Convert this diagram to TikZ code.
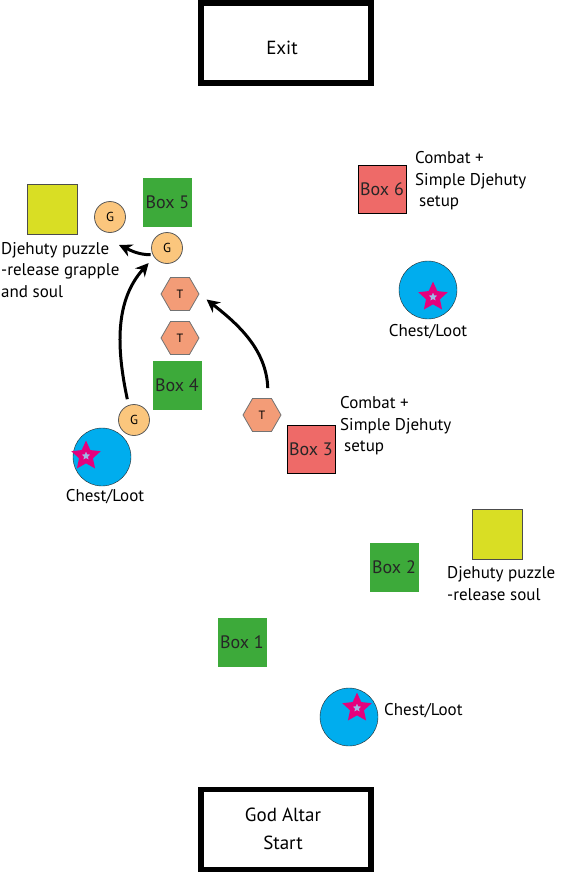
\documentclass[tikz,border=0pt]{standalone}
\usepackage{fontspec}
\setmainfont{PT Sans}
\usetikzlibrary{shapes.geometric,arrows.meta}
\definecolor{boxgreen}{HTML}{3DAA3A}
\definecolor{boxred}{HTML}{EE6A68}
\definecolor{puzzleyellow}{HTML}{D9DE24}
\definecolor{chestblue}{HTML}{00ADEE}
\definecolor{starpink}{HTML}{E5007D}
\definecolor{holeblue}{HTML}{9FB8E6}
\definecolor{grapple}{HTML}{FBC67D}
\definecolor{trap}{HTML}{F39C77}

\begin{document}
\begin{tikzpicture}
  [x=1pt,y=-1pt,
  door/.style={rectangle,draw=black,line width=5.5pt,minimum width=170pt,
                  minimum height=80pt,align=center,outer sep=0,
                  font=\fontsize{19}{28}\selectfont},
  doortext/.style={inner sep=0,align=center,font=\fontsize{19}{28}\selectfont},
  greenbox/.style={rectangle,fill=boxgreen,minimum size=49pt,inner sep=0,
                  text=black!85,font=\fontsize{18}{20}\selectfont},
  redbox/.style={rectangle,fill=boxred,draw=black,thick,minimum size=48pt,
                  inner sep=0,text=black!85,font=\fontsize{18}{20}\selectfont},
  puzzle/.style={rectangle,fill=puzzleyellow,draw=black!70,minimum size=50pt},
  chest/.style={circle,fill=chestblue,draw=black!85,minimum size=58pt},
  loot/.style={star,star points=5,star point ratio=2.1,minimum size=20pt,
                  inner sep=0,draw=starpink,fill=holeblue,line width=4.5pt},
  gnode/.style={circle,fill=grapple,draw=black!65,thick,minimum size=31pt,
                  inner sep=0,font=\fontsize{13}{13}\selectfont},
  tnode/.style={regular polygon,regular polygon sides=6,fill=trap,
                  draw=black!55,thick,minimum size=38pt,inner sep=0,
                  font=\fontsize{12}{12}\selectfont},
  note/.style={align=left,inner sep=0,font=\fontsize{17}{21.5}\selectfont},
  flow/.style={-{Stealth[length=13pt,width=13pt]},line width=3pt}
  ]
  \useasboundingbox (0,0) rectangle (560,873);

  % exit and start
  \node[door] (exit) at (286,43) {};
  \node[doortext] (exitlabel) at (282,48) {Exit};
  \node[door] (altar) at (286,829.5) {};
  \node[doortext] (altarlabel) at (283,829) {God Altar\\Start};

  % upper left room
  \node[puzzle] (puzzle1) at (52,209) {};
  \node[gnode] (g1) at (110,217) {G};
  \node[greenbox] (box5) at (167.5,202) {Box 5};
  \node[gnode] (g2) at (167,248) {G};
  \node[note,anchor=west] (puzzletxt1) at (1,270)
        {Djehuty puzzle\\-release grapple\\and soul};
  \coordinate (puzzlein) at (119,245);
  \node[tnode] (t1) at (180,294) {T};
  \node[tnode] (t2) at (180,338) {T};
  \node[greenbox] (box4) at (177,385.5) {Box 4};
  \node[gnode] (g3) at (134,420) {G};
  \node[chest] (chest1) at (102,457) {};
  \node[loot] (loot1) at (86,456) {};
  \node (chesttxt1) [note] at (105,497) {Chest/Loot};

  % middle
  \node[tnode] (t3) at (262,415) {T};
  \node[redbox] (box3) at (311,449) {Box 3};
  \node[note,anchor=west] (combattxt1) at (340,426)
        {Combat +\\Simple Djehuty\\\hspace*{4pt}setup};

  % upper right
  \node[redbox] (box6) at (382,189.5) {Box 6};
  \node[note,anchor=west] (combattxt2) at (415,181)
        {Combat +\\Simple Djehuty\\\hspace*{4pt}setup};
  \node[chest] (chest2) at (428,290) {};
  \node[loot] (loot2) at (433,297) {};
  \node[note] (chesttxt2) at (428,332) {Chest/Loot};

  % lower right
  \node[puzzle] (puzzle2) at (497.5,534) {};
  \node[note,anchor=west] (puzzletxt2) at (447,583.5)
        {Djehuty puzzle\\-release soul};
  \node[greenbox] (box2) at (394,567) {Box 2};
  \node[greenbox] (box1) at (242,642.5) {Box 1};
  \node[chest] (chest3) at (349,717) {};
  \node[loot] (loot3) at (357,708) {};
  \node[note,anchor=west] (chesttxt3) at (384,711) {Chest/Loot};

  \draw[flow,shorten <=6pt,shorten >=8pt] (g3.110) to [out=102,in=228] (g2.215);
  \draw[flow,shorten <=2pt] (g2.205) to [out=180,in=-25] (puzzlein);
  \draw[flow,shorten <=10pt,shorten >=9pt] (t3.70) to [out=92,in=-38] (t1.east);
\end{tikzpicture}
\end{document}
